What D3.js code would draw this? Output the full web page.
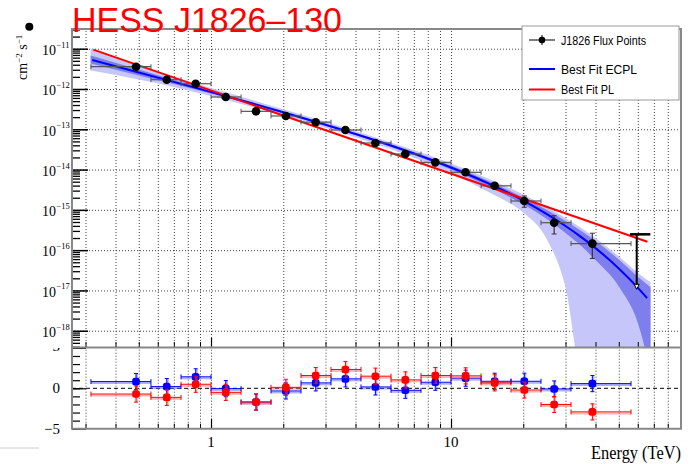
<!DOCTYPE html>
<html>
<head>
<meta charset="utf-8">
<script src="https://cdn.jsdelivr.net/npm/d3@7"></script>
<style>
  html, body { margin: 0; padding: 0; background: #fff; }
  svg { display: block; }
</style>
</head>
<body>
<svg id="chart" width="694" height="464"></svg>
<script>
// ---------- data ----------
// flux points (TeV, TeV^-1 cm^-2 s^-1)
const pointEnergy = [0.487, 0.654, 0.863, 1.152, 1.54, 2.05, 2.73, 3.63, 4.84, 6.45, 8.6, 11.5, 15.2, 20.2, 26.9, 38.8];
const binLow      = [0.316, 0.562, 0.750, 1.0, 1.334, 1.778, 2.371, 3.162, 4.217, 5.623, 7.499, 10.0, 13.34, 17.78, 23.71, 31.62];
const binHigh     = [0.562, 0.750, 1.0, 1.334, 1.778, 2.371, 3.162, 4.217, 5.623, 7.499, 10.0, 13.34, 17.78, 23.71, 31.62, 56.23];
const pointFlux   = [3.57e-12, 1.70e-12, 1.35e-12, 6.33e-13, 2.79e-13, 2.14e-13, 1.50e-13, 9.60e-14, 4.56e-14, 2.43e-14, 1.51e-14, 8.55e-15, 3.95e-15, 1.66e-15, 4.80e-16, 1.45e-16];
const fluxHigh    = [4.24e-12, 1.96e-12, 1.56e-12, 7.10e-13, 3.31e-13, 2.40e-13, 1.68e-13, 1.08e-13, 5.11e-14, 2.72e-14, 1.69e-14, 9.58e-15, 4.56e-15, 2.21e-15, 7.16e-16, 2.63e-16];
const fluxLow     = [3.01e-12, 1.47e-12, 1.17e-12, 5.65e-13, 2.35e-13, 1.91e-13, 1.34e-13, 8.56e-14, 4.07e-14, 2.17e-14, 1.35e-14, 7.63e-15, 3.42e-15, 1.16e-15, 2.52e-16, 6.22e-17];

// upper limit in the last bin
const ulEnergy  = [59.4];
const ulBinLow  = [55.7];
const ulBinHigh = [67.7];
const ulFlux    = [2.47e-16];

// best-fit power law
const plEnergy = [0.323, 65.8];
const plFlux   = [9.5e-12, 1.62e-16];

// best-fit power law with exponential cutoff
const ecplEnergy = [0.32, 0.5, 0.7, 1, 1.5, 2, 3, 5, 7, 10, 15, 20, 25, 30, 35, 40, 50, 60, 65.6];
const ecplFlux   = [5.22e-12, 2.57e-12, 1.50e-12, 8.41e-13, 4.30e-13, 2.645e-13, 1.297e-13, 4.98e-14, 2.51e-14, 1.127e-14, 3.99e-15, 1.70e-15, 7.96e-16, 3.98e-16, 2.08e-16, 1.124e-16, 3.51e-17, 1.17e-17, 6.41e-18];

// ECPL confidence bands (outer and inner)
const bandEnergy = [0.315, 0.5, 0.7, 1, 1.5, 2, 3, 5, 7, 10, 15, 20, 25, 30, 35, 40, 50, 60, 67.8];
const outerHigh  = [1.005e-11, 3.83e-12, 2.00e-12, 1.057e-12, 5.25e-13, 3.14e-13, 1.539e-13, 5.91e-14, 3.07e-14, 1.416e-14, 5.31e-15, 2.40e-15, 1.188e-15, 6.29e-16, 3.48e-16, 1.99e-16, 6.97e-17, 2.76e-17, 1.59e-17];
const outerLow   = [2.86e-12, 1.72e-12, 1.127e-12, 6.69e-13, 3.52e-13, 2.23e-13, 1.093e-13, 4.08e-14, 2.00e-14, 8.00e-15, 2.39e-15, 8.56e-16, 1.91e-16, 1.2e-17, 1e-19, 1e-19, 1e-19, 1e-19, 1e-19];
const innerHigh  = [6.74e-12, 3.05e-12, 1.68e-12, 9.16e-13, 4.61e-13, 2.80e-13, 1.373e-13, 5.33e-14, 2.73e-14, 1.263e-14, 4.60e-15, 2.02e-15, 1.00e-15, 5.30e-16, 2.93e-16, 1.677e-16, 5.87e-17, 2.19e-17, 1.20e-17];
const innerLow   = [4.27e-12, 2.17e-12, 1.338e-12, 7.72e-13, 4.01e-13, 2.50e-13, 1.225e-13, 4.65e-14, 2.30e-14, 1.005e-14, 3.36e-15, 1.353e-15, 5.98e-16, 2.67e-16, 1.243e-16, 5.66e-17, 1.255e-17, 1.58e-18, 1e-19];

// residuals (sigma) for each flux point
const residEcpl = [0.83, 0.21, 1.42, -0.04, -1.7, -0.33, 0.67, 1.17, 0.17, -0.25, 0.75, 1.25, 0.87, 0.87, -0.08, 0.58];
const residPl   = [-0.71, -1.12, 0.5, -0.5, -1.7, 0.12, 1.58, 2.33, 1.5, 1.04, 1.58, 1.54, 0.67, -0.21, -2.0, -2.92];
const residErr  = [1, 1, 1, 1, 1, 1, 1, 1, 1, 1, 1, 1, 1, 1, 1, 1];

// axis labels
const yDecadeExponents = [-11, -12, -13, -14, -15, -16, -17, -18];
const residTickLabels = [5, 0, -5];
const xTickLabels = [1, 10];
const legendLabels = ["J1826 Flux Points", "Best Fit ECPL", "Best Fit PL"];
const titleText = "HESS J1826\u2013130";
const xTitle = "Energy (TeV)";

// ---------- layout ----------
const svg = d3.select("#chart");
const plot = { left: 72, right: 681, top: 29, bottom: 347 };
const rp = { top: 347.9, bottom: 428.7 };
const serif = "'Liberation Serif', 'Times New Roman', serif";
const sans = "'Liberation Sans', Arial, sans-serif";
const blue = "#0000ff", red = "#ff0000";

const x = d3.scaleLog().domain([0.2635, 90.84]).range([plot.left, plot.right]);
const y = d3.scaleLog().domain([Math.pow(10, -18.404), Math.pow(10, -10.511)]).range([plot.bottom, plot.top]);
const yr = d3.scaleLinear().domain([-5, 5]).range([rp.bottom, rp.top]);

svg.append("rect").attr("width", 694).attr("height", 464).attr("fill", "#fff");

// tick positions on log axes
function logTicks(scale) {
  const [lo, hi] = scale.domain();
  const out = [];
  for (let e = Math.floor(Math.log10(lo)); e <= Math.ceil(Math.log10(hi)); e++) {
    for (let k = 1; k <= 9; k++) {
      const v = +(k * Math.pow(10, e)).toPrecision(6);
      if (v >= lo && v <= hi) out.push(v);
    }
  }
  return out;
}
const xAll = logTicks(x);
const xMajor = xAll.filter(v => Math.abs(Math.log10(v) - Math.round(Math.log10(v))) < 1e-9);
const xMinor = xAll.filter(v => !xMajor.includes(v));
const yAll = logTicks(y);
const yMajor = yDecadeExponents.map(e => Math.pow(10, e));
const yMinor = yAll.filter(v => Math.abs(Math.log10(v) - Math.round(Math.log10(v))) > 1e-9);

function styleGrid(g) {
  g.select(".domain").remove();
  g.selectAll("text").remove();
  g.selectAll("line").attr("stroke", "#444").attr("stroke-width", 1).attr("stroke-dasharray", "1,2");
}
function styleTicks(g, w) {
  g.select(".domain").remove();
  g.selectAll("text").remove();
  g.selectAll("line").attr("stroke", "#000").attr("stroke-width", w);
}

// ---------- residual panel ----------
const res = svg.append("g");
res.append("g").attr("transform", `translate(0,${rp.bottom})`)
  .call(d3.axisTop(x).tickValues(xAll).tickSize(rp.bottom - rp.top).tickFormat(""))
  .call(styleGrid);
res.append("line").attr("x1", plot.left).attr("x2", plot.right).attr("y1", yr(0)).attr("y2", yr(0))
  .attr("stroke", "#000").attr("stroke-width", 1).attr("stroke-dasharray", "4,3");
// residual axis ticks
res.append("g").attr("transform", `translate(${plot.left},0)`)
  .call(d3.axisRight(yr).tickValues(d3.range(-5, 6)).tickSize(8).tickFormat("")).call(g => styleTicks(g, 1.2));
res.append("g").attr("transform", `translate(${plot.left},0)`)
  .call(d3.axisRight(yr).tickValues([-5, 0, 5]).tickSize(14).tickFormat("")).call(g => styleTicks(g, 1.2));
res.append("g").attr("transform", `translate(0,${rp.bottom})`)
  .call(d3.axisTop(x).tickValues(xMinor).tickSize(5).tickFormat("")).call(g => styleTicks(g, 1));
res.append("g").attr("transform", `translate(0,${rp.bottom})`)
  .call(d3.axisTop(x).tickValues(xMajor).tickSize(10).tickFormat("")).call(g => styleTicks(g, 1.2));

// residual y labels (the top one is partly hidden under the upper pad)
svg.append("clipPath").attr("id", "resLabelClip").append("rect")
  .attr("x", 0).attr("y", plot.bottom + 1).attr("width", plot.left).attr("height", 120);
res.append("g").attr("clip-path", "url(#resLabelClip)")
  .selectAll("text").data(residTickLabels).join("text")
  .attr("x", 60).attr("y", d => yr(d) + (d === 5 ? 3.5 : 5)).attr("text-anchor", "end")
  .attr("font-family", serif).attr("font-size", 15).attr("fill", "#000")
  .text(d => d < 0 ? "\u2212" + Math.abs(d) : d);

// residual points
function drawResiduals(vals, color, pale) {
  const g = res.append("g");
  vals.forEach((v, i) => {
    const cx = x(pointEnergy[i]), cy = yr(v);
    const xl = x(binLow[i]), xh = x(binHigh[i]);
    const yt = yr(v + residErr[i]), yb = yr(v - residErr[i]);
    // soft shadow copy of the bars
    g.append("line").attr("x1", xl).attr("x2", xh).attr("y1", cy + 1.5).attr("y2", cy + 1.5)
      .attr("stroke", pale).attr("stroke-width", 2);
    g.append("line").attr("x1", cx + 1).attr("x2", cx + 1).attr("y1", yt).attr("y2", yb)
      .attr("stroke", pale).attr("stroke-width", 2);
    g.append("line").attr("x1", xl).attr("x2", xh).attr("y1", cy).attr("y2", cy).attr("stroke", color).attr("stroke-width", 1);
    g.append("line").attr("x1", cx).attr("x2", cx).attr("y1", yt).attr("y2", yb).attr("stroke", color).attr("stroke-width", 1);
    [xl, xh].forEach(px => g.append("line").attr("x1", px).attr("x2", px).attr("y1", cy - 2.5).attr("y2", cy + 2.5).attr("stroke", color));
    [yt, yb].forEach(py => g.append("line").attr("x1", cx - 2).attr("x2", cx + 2).attr("y1", py).attr("y2", py).attr("stroke", color));
    g.append("rect").attr("x", cx - 3.8).attr("y", cy - 3.8).attr("width", 7.6).attr("height", 7.6)
      .attr("rx", 2.5).attr("fill", color);
  });
}
drawResiduals(residEcpl, blue, "rgba(80,80,255,0.45)");
drawResiduals(residPl, red, "rgba(255,90,90,0.45)");

// residual frame
res.append("line").attr("x1", plot.left).attr("x2", plot.left).attr("y1", rp.top).attr("y2", rp.bottom).attr("stroke", "#888").attr("stroke-width", 2);
res.append("line").attr("x1", plot.right).attr("x2", plot.right).attr("y1", rp.top).attr("y2", rp.bottom).attr("stroke", "#888").attr("stroke-width", 2);
res.append("line").attr("x1", plot.left - 1).attr("x2", plot.right + 1).attr("y1", rp.bottom).attr("y2", rp.bottom).attr("stroke", "#888").attr("stroke-width", 2);

// x tick labels and title
res.selectAll(".xlab").data(xTickLabels).join("text")
  .attr("x", d => x(d)).attr("y", 447).attr("text-anchor", "middle")
  .attr("font-family", serif).attr("font-size", 15).attr("fill", "#000").text(d => d);
svg.append("text").attr("x", plot.right).attr("y", 459).attr("text-anchor", "end")
  .attr("font-family", serif).attr("font-size", 19).attr("textLength", 90).attr("lengthAdjust", "spacingAndGlyphs")
  .attr("fill", "#000").text(xTitle);
svg.append("line").attr("x1", 0).attr("x2", 39).attr("y1", 448).attr("y2", 448).attr("stroke", "#ccc").attr("stroke-width", 1);

// ---------- main panel ----------
const main = svg.append("g");
svg.append("clipPath").attr("id", "plotClip").append("rect")
  .attr("x", plot.left).attr("y", plot.top).attr("width", plot.right - plot.left).attr("height", plot.bottom - plot.top);

main.append("g").attr("transform", `translate(0,${plot.bottom})`)
  .call(d3.axisTop(x).tickValues(xAll).tickSize(plot.bottom - plot.top).tickFormat(""))
  .call(styleGrid);
main.append("g").attr("transform", `translate(${plot.right},0)`)
  .call(d3.axisLeft(y).tickValues(yMajor).tickSize(plot.right - plot.left).tickFormat(""))
  .call(styleGrid);

const inner = main.append("g").attr("clip-path", "url(#plotClip)");
const bandRows = bandEnergy.map((e, i) => ({ e, oh: outerHigh[i], ol: outerLow[i], ih: innerHigh[i], il: innerLow[i] }));
inner.append("path").datum(bandRows)
  .attr("d", d3.area().x(d => x(d.e)).y0(d => y(d.ol)).y1(d => y(d.oh)).curve(d3.curveMonotoneX))
  .attr("fill", "#c6c6fb");
inner.append("path").datum(bandRows)
  .attr("d", d3.area().x(d => x(d.e)).y0(d => y(d.il)).y1(d => y(d.ih)).curve(d3.curveMonotoneX))
  .attr("fill", "#7e7eec");

const lineGen = d3.line().x(d => x(d[0])).y(d => y(d[1])).curve(d3.curveMonotoneX);
inner.append("path").datum(ecplEnergy.map((e, i) => [e, ecplFlux[i]]))
  .attr("d", lineGen).attr("fill", "none").attr("stroke", blue).attr("stroke-width", 2);
inner.append("path").datum(plEnergy.map((e, i) => [e, plFlux[i]]))
  .attr("d", lineGen).attr("fill", "none").attr("stroke", red).attr("stroke-width", 2);

// flux points
const pts = inner.append("g");
pointEnergy.forEach((e, i) => {
  const cx = x(e), cy = y(pointFlux[i]);
  const xl = x(binLow[i]), xh = x(binHigh[i]);
  const yt = y(fluxHigh[i]), yb = y(fluxLow[i]);
  pts.append("line").attr("x1", xl).attr("x2", xh).attr("y1", cy).attr("y2", cy).attr("stroke", "#555").attr("stroke-width", 1.2);
  [xl, xh].forEach(px => pts.append("line").attr("x1", px).attr("x2", px).attr("y1", cy - 2.5).attr("y2", cy + 2.5).attr("stroke", "#555"));
  pts.append("line").attr("x1", cx).attr("x2", cx).attr("y1", yt).attr("y2", yb).attr("stroke", "#333").attr("stroke-width", 1.2);
  [yt, yb].forEach(py => pts.append("line").attr("x1", cx - 2.5).attr("x2", cx + 2.5).attr("y1", py).attr("y2", py).attr("stroke", "#333"));
  pts.append("circle").attr("cx", cx).attr("cy", cy).attr("r", 4.3).attr("fill", "#000");
});

// upper limit
ulEnergy.forEach((e, i) => {
  const cx = x(e), top = y(ulFlux[i]), tip = top + 54;
  pts.append("line").attr("x1", x(ulBinLow[i])).attr("x2", x(ulBinHigh[i])).attr("y1", top).attr("y2", top)
    .attr("stroke", "#000").attr("stroke-width", 2.5);
  pts.append("line").attr("x1", cx).attr("x2", cx).attr("y1", top).attr("y2", tip).attr("stroke", "#000").attr("stroke-width", 2);
  pts.append("path").attr("d", `M${cx - 2.5},${tip - 4}L${cx + 2.5},${tip - 4}L${cx},${tip + 1}Z`)
    .attr("fill", "#fff").attr("stroke", "#000").attr("stroke-width", 1);
});

// main axes ticks
main.append("g").attr("transform", `translate(${plot.left},0)`)
  .call(d3.axisRight(y).tickValues(yMinor).tickSize(8).tickFormat("")).call(g => styleTicks(g, 1.3));
main.append("g").attr("transform", `translate(${plot.left},0)`)
  .call(d3.axisRight(y).tickValues(yMajor).tickSize(16).tickFormat("")).call(g => styleTicks(g, 1.5));
main.append("g").attr("transform", `translate(0,${plot.bottom})`)
  .call(d3.axisTop(x).tickValues(xMinor).tickSize(5).tickFormat("")).call(g => styleTicks(g, 1));
main.append("g").attr("transform", `translate(0,${plot.bottom})`)
  .call(d3.axisTop(x).tickValues(xMajor).tickSize(9).tickFormat("")).call(g => styleTicks(g, 1.2));

// frame
const frame = [[plot.left, plot.top, plot.left, plot.bottom], [plot.right, plot.top, plot.right, plot.bottom],
               [plot.left - 1, plot.top, plot.right + 1, plot.top], [plot.left - 1, plot.bottom + 0.5, plot.right + 1, plot.bottom + 0.5]];
main.selectAll(".frame").data(frame).join("line")
  .attr("x1", d => d[0]).attr("y1", d => d[1]).attr("x2", d => d[2]).attr("y2", d => d[3])
  .attr("stroke", "#888").attr("stroke-width", 2);

// y tick labels 10^n
yDecadeExponents.forEach(ex => {
  const py = y(Math.pow(10, ex));
  main.append("text").attr("x", 56).attr("y", py + 6.3).attr("text-anchor", "end")
    .attr("font-family", serif).attr("font-size", 14).attr("fill", "#000").text("10");
  main.append("text").attr("x", 56.5).attr("y", py - 1).attr("text-anchor", "start")
    .attr("font-family", serif).attr("font-size", 8.5).attr("fill", "#000").text("\u2212" + Math.abs(ex));
});

// y title (partly cut at the left edge)
const yt = svg.append("text").attr("transform", "translate(27,80) rotate(-90)")
  .attr("font-family", serif).attr("font-size", 14).attr("fill", "#000");
yt.append("tspan").text("cm");
yt.append("tspan").attr("dy", -5).attr("font-size", 9).text("\u22122");
yt.append("tspan").attr("dy", 5).text(" s");
yt.append("tspan").attr("dy", -5).attr("font-size", 9).text("\u22121");
svg.append("circle").attr("cx", 29.3).attr("cy", 26.7).attr("r", 4).attr("fill", "#000");

// legend
const lg = svg.append("g");
lg.append("rect").attr("x", 522).attr("y", 26).attr("width", 157).attr("height", 74)
  .attr("fill", "#fff").attr("stroke", "#999").attr("stroke-width", 1);
const legendRows = [40, 69, 89.5];
lg.append("line").attr("x1", 529).attr("x2", 555).attr("y1", legendRows[0]).attr("y2", legendRows[0]).attr("stroke", "#000");
lg.append("line").attr("x1", 542).attr("x2", 542).attr("y1", legendRows[0] - 5).attr("y2", legendRows[0] + 5).attr("stroke", "#000");
lg.append("circle").attr("cx", 542).attr("cy", legendRows[0]).attr("r", 3.3).attr("fill", "#000");
lg.append("line").attr("x1", 529).attr("x2", 555).attr("y1", legendRows[1]).attr("y2", legendRows[1]).attr("stroke", blue).attr("stroke-width", 2);
lg.append("line").attr("x1", 529).attr("x2", 555).attr("y1", legendRows[2]).attr("y2", legendRows[2]).attr("stroke", red).attr("stroke-width", 2);
const legendWidths = [85, 76, 53];
legendLabels.forEach((t, i) => {
  lg.append("text").attr("x", 561).attr("y", legendRows[i] + 4.8)
    .attr("font-family", sans).attr("font-size", 13).attr("fill", "#000")
    .attr("textLength", legendWidths[i]).attr("lengthAdjust", "spacingAndGlyphs").text(t);
});

// title
svg.append("text").attr("x", 72).attr("y", 32).attr("font-family", sans).attr("font-size", 35)
  .attr("fill", red).attr("textLength", 270).attr("lengthAdjust", "spacingAndGlyphs").text(titleText);
</script>
</body>
</html>
